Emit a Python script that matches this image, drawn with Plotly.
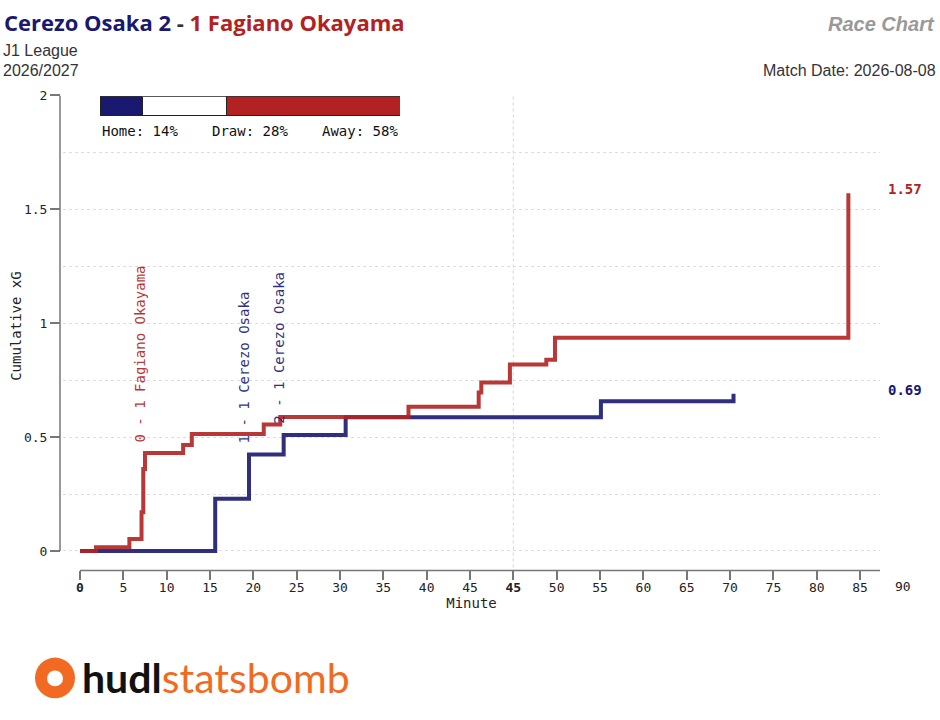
import numpy as np
import plotly.graph_objects as go

HOME_TEAM = "Cerezo Osaka"
AWAY_TEAM = "Fagiano Okayama"
HOME_GOALS = 2
AWAY_GOALS = 1
COMPETITION = "J1 League"
SEASON = "2026/2027"
MATCH_DATE = "2026-08-08"

HOME_COLOR = "#191970"
AWAY_COLOR = "#b22222"

# shot times are minutes played (first half ran to 50 with added time)
home_shot_min = [15.6, 19.5, 23.5, 30.65, 60.1, 75.4]
home_shot_xg = [0.229, 0.195, 0.085, 0.078, 0.070, 0.033]

away_shot_min = [1.85, 5.7, 7.1, 7.3, 7.5, 11.9, 12.9, 21.2, 23.1,
                 37.9, 46.0, 46.3, 49.6, 53.8, 54.8, 88.65]
away_shot_xg = [0.016, 0.037, 0.117, 0.190, 0.070, 0.035, 0.049, 0.041, 0.033,
                0.045, 0.063, 0.044, 0.079, 0.021, 0.096, 0.634]

goal_min = [7.5, 19.5, 23.5]
goal_team = ["away", "home", "home"]
goal_text = ["0 - 1 Fagiano Okayama", "1 - 1 Cerezo Osaka", "2 - 1 Cerezo Osaka"]

outcome_labels = ["Home", "Draw", "Away"]
outcome_pct = [14, 28, 58]

HALF_END = 50
x_tickvals = [0, 5, 10, 15, 20, 25, 30, 35, 40, 45,
              50, 55, 60, 65, 70, 75, 80, 85, 90]
x_ticktext = ["<b>0</b>", "5", "10", "15", "20", "25", "30", "35", "40", "45",
              "<b>45</b>", "50", "55", "60", "65", "70", "75", "80", "85"]
x_last_tick = (95, "90")   # drawn past the end of the axis line

Y_TOP = 2.0
y_tickvals = [0, 0.5, 1, 1.5, 2]
y_ticktext = ["0", "0.5", "1", "1.5", "2"]
y_minor = [0.25, 0.75, 1.25, 1.75]

W, H = 940, 720
MONO = "DejaVu Sans Mono"
SANS = "Liberation Sans"


def px(x):
    return x / W


def py(y):
    return 1 - y / H


X_RANGE = [-1.96, 92.3]
X_DOMAIN = [px(63), px(880)]
Y_RANGE = [-0.0857, Y_TOP]
Y_DOMAIN = [py(569), py(89.3)]


def steps(times, xg):
    return [0] + list(times), [0] + list(np.cumsum(xg))


hx, hy = steps(home_shot_min, home_shot_xg)
ax_, ay = steps(away_shot_min, away_shot_xg)

fig = go.Figure()
fig.add_trace(go.Scatter(x=hx, y=hy, mode="lines", line_shape="hv",
                         line=dict(color=HOME_COLOR, width=4), opacity=0.9,
                         hoverinfo="skip", showlegend=False))
fig.add_trace(go.Scatter(x=ax_, y=ay, mode="lines", line_shape="hv",
                         line=dict(color=AWAY_COLOR, width=4), opacity=0.9,
                         hoverinfo="skip", showlegend=False))

# win probability bar
bar_colors = [HOME_COLOR, "white", AWAY_COLOR]
for lab, pct, col in zip(outcome_labels, outcome_pct, bar_colors):
    fig.add_trace(go.Bar(x=[pct], y=[0], orientation="h", width=1,
                         marker=dict(color=col, line=dict(color="#222", width=1)),
                         xaxis="x2", yaxis="y2", hoverinfo="skip", showlegend=False))

annotations = []
anchors = [(0, "left"), (50, "center"), (100, "right")]
for lab, pct, (xa, anc) in zip(outcome_labels, outcome_pct, anchors):
    annotations.append(dict(x=xa, xref="x2", y=py(125.7), yref="paper",
                            text=f"{lab}: {pct}%", showarrow=False, xanchor=anc,
                            yanchor="middle", font=dict(family=MONO, size=14, color="#111")))

# goal labels
for t, team, txt in zip(goal_min, goal_team, goal_text):
    xs, ys, col = (hx, hy, HOME_COLOR) if team == "home" else (ax_, ay, AWAY_COLOR)
    val = ys[xs.index(t)]
    annotations.append(dict(x=t, y=val, xref="x", yref="y", text=txt, textangle=-90,
                            showarrow=False, xanchor="center", yanchor="bottom",
                            xshift=-5, yshift=9, opacity=0.9,
                            font=dict(family=MONO, size=14, color=col)))

# end values
for ys, col in [(ay, AWAY_COLOR), (hy, HOME_COLOR)]:
    annotations.append(dict(x=px(886), xref="paper", y=ys[-1], yref="y",
                            text=f"<b>{ys[-1]:.2f}</b>", showarrow=False,
                            xanchor="left", yanchor="middle", yshift=4,
                            font=dict(family=MONO, size=14, color=col)))

# last minute label beyond the axis
lt = X_DOMAIN[0] + (x_last_tick[0] - X_RANGE[0]) / (X_RANGE[1] - X_RANGE[0]) * (X_DOMAIN[1] - X_DOMAIN[0])
annotations.append(dict(x=lt, xref="paper", y=py(585), yref="paper", text=x_last_tick[1],
                        showarrow=False, xanchor="center", yanchor="middle",
                        font=dict(family=MONO, size=13, color="#222")))

title = (f"<span style='color:{HOME_COLOR}'>{HOME_TEAM} {HOME_GOALS}</span>"
         f"<span style='color:#333'> - </span>"
         f"<span style='color:{AWAY_COLOR}'>{AWAY_GOALS} {AWAY_TEAM}</span>")
annotations += [
    dict(x=px(16), y=py(322), text="Cumulative xG", textangle=-90, xanchor="center",
         font=dict(family=MONO, size=14, color="#222")),
    dict(x=px(2), y=py(15), text=f"<b>{title}</b>", font=dict(family="Open Sans", size=22)),
    dict(x=px(1), y=py(44), text=COMPETITION, font=dict(family=SANS, size=16, color="#333")),
    dict(x=px(1), y=py(64), text=SEASON, font=dict(family=SANS, size=16, color="#333")),
    dict(x=px(937), y=py(17), text="<b><i>Race Chart</i></b>", xanchor="right",
         font=dict(family=SANS, size=20, color="#999")),
    dict(x=px(938), y=py(64), text=f"Match Date: {MATCH_DATE}", xanchor="right",
         font=dict(family=SANS, size=16, color="#333")),
    dict(x=px(80), y=py(677), text="<b>hudl</b><span style='color:#f26a21'>statsbomb</span>",
         font=dict(family="Lato", size=41, color="#111")),
]
for a in annotations[-7:]:
    a.setdefault("xanchor", "left")
    a.update(xref="paper", yref="paper", yanchor="middle", showarrow=False)

shapes = [
    # axis lines
    dict(type="line", xref="x", yref="paper", x0=0, x1=X_RANGE[1], y0=py(569), y1=py(569),
         line=dict(color="#777", width=1.5)),
    dict(type="line", xref="paper", yref="y", x0=px(60), x1=px(60), y0=0, y1=Y_TOP,
         line=dict(color="#777", width=1.5)),
    # half time
    dict(type="line", xref="x", yref="paper", x0=HALF_END, x1=HALF_END, y0=py(566), y1=py(89),
         line=dict(color="#ddd", width=1.2, dash="dot"), layer="below"),
    # logo mark
    dict(type="circle", xref="paper", yref="paper", x0=px(35), x1=px(75), y0=py(698), y1=py(657),
         fillcolor="#f26a21", line=dict(width=0)),
    dict(type="circle", xref="paper", yref="paper", x0=px(47), x1=px(63), y0=py(686), y1=py(670),
         fillcolor="white", line=dict(width=0)),
]

fig.update_layout(
    width=W, height=H, margin=dict(l=0, r=0, t=0, b=0),
    paper_bgcolor="white", plot_bgcolor="white", barmode="stack",
    annotations=annotations, shapes=shapes,
    xaxis=dict(domain=X_DOMAIN, range=X_RANGE, tickvals=x_tickvals, ticktext=x_ticktext,
               ticks="outside", ticklen=9, tickwidth=1.5, tickcolor="#777",
               ticklabelstandoff=-4,
               showline=False, showgrid=False, zeroline=False, anchor="y",
               tickfont=dict(family=MONO, size=13, color="#222"),
               title=dict(text="Minute", font=dict(family=MONO, size=14, color="#222"), standoff=2)),
    yaxis=dict(domain=Y_DOMAIN, range=Y_RANGE, tickvals=y_tickvals, ticktext=y_ticktext,
               ticks="outside", ticklen=10, tickwidth=1.5, tickcolor="#777",
               anchor="free", position=px(60), showline=False, zeroline=False,
               showgrid=True, gridcolor="#ddd", griddash="dot", gridwidth=1,
               minor=dict(tickvals=y_minor, showgrid=True, gridcolor="#ddd",
                          griddash="dot", ticks=""),
               tickfont=dict(family=MONO, size=13, color="#222")),
    xaxis2=dict(domain=[px(100), px(400)], range=[0, 100], visible=False, fixedrange=True),
    yaxis2=dict(domain=[py(110), py(90)], range=[-0.5, 0.5], visible=False, anchor="x2",
                fixedrange=True),
)

# the page body has a default margin; drop it so the figure sits at the window corner
fig.write_html("out.html", post_script="document.body.style.margin='0';",
               config={"displayModeBar": False})
